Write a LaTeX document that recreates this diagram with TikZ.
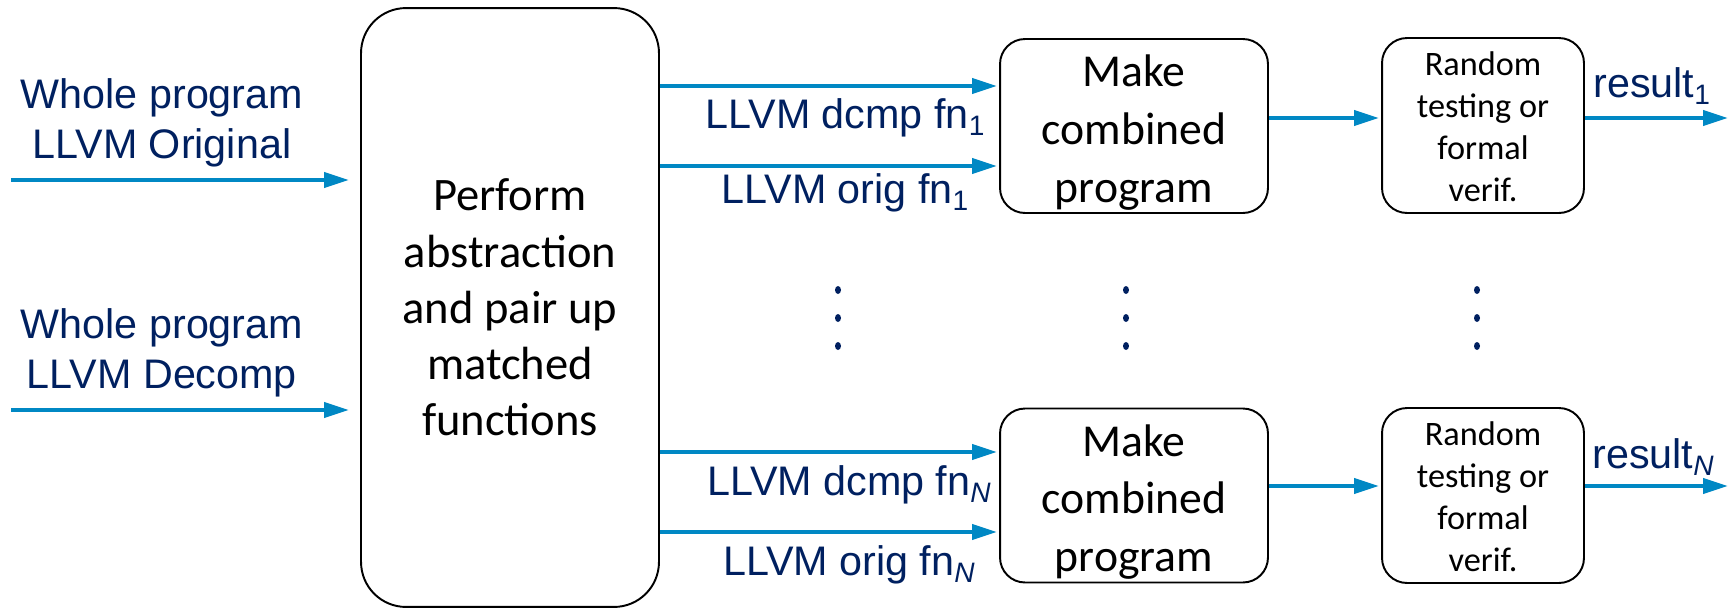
\documentclass[tikz,border=0pt]{standalone}
\usepackage{fontspec}
\setmainfont{Liberation Sans}
\newfontfamily\boxfont{Carlito}
\usetikzlibrary{arrows.meta,positioning}
\definecolor{navy}{RGB}{0,32,96}
\definecolor{flow}{RGB}{0,136,196}
\newcommand{\lsub}[1]{\raisebox{-4.5pt}{\fontsize{16}{16}\selectfont #1}}

\begin{document}
\begin{tikzpicture}[x=0.02cm, y=-0.02cm, >={Triangle[length=0.5cm,width=0.3cm]}]
	\tikzstyle{box}=[draw=black, line width=1.1pt, rounded corners=0.5cm, align=center, inner sep=0pt, text=black]
	\tikzstyle{flowline}=[->, draw=flow, line width=2.3pt, shorten >=0.04cm]
	\tikzstyle{lbl}=[text=navy, inner sep=0pt, align=center, font=\fontsize{23.5}{28.5}\selectfont]
	\useasboundingbox (0,0) rectangle (1728,609);

	% boxes
	\node[box, rounded corners=0.9cm, minimum width=5.96cm, minimum height=11.98cm,
		font=\boxfont\fontsize{26.5}{32}\selectfont] (abs) at (510,307.5)
		{Perform\\abstraction\\and pair up\\matched\\functions};
	\node[box, minimum width=5.36cm, minimum height=3.48cm, font=\boxfont\fontsize{26}{33}\selectfont]
		(mk1) at (1134,126) {\rule{0pt}{25.5pt}Make\\combined\\program};
	\node[box, minimum width=5.36cm, minimum height=3.48cm, font=\boxfont\fontsize{26}{33}\selectfont]
		(mkN) at (1134,495.5) {\rule{0pt}{25.5pt}Make\\combined\\program};
	\node[box, minimum width=4.04cm, minimum height=3.5cm, font=\boxfont\fontsize{19.5}{24}\selectfont]
		(rt1) at (1483,125.5) {\rule{0pt}{15pt}Random\\testing or\\formal\\verif.};
	\node[box, minimum width=4.04cm, minimum height=3.5cm, font=\boxfont\fontsize{19.5}{24}\selectfont]
		(rtN) at (1483,495.5) {\rule{0pt}{15pt}Random\\testing or\\formal\\verif.};

	% levels of the connectors
	\coordinate (srcO) at (11,180);
	\coordinate (srcD) at (11,410);
	\coordinate (yd1) at (0,86);
	\coordinate (yo1) at (0,166);
	\coordinate (ydN) at (0,452);
	\coordinate (yoN) at (0,532);
	\coordinate (yr1) at (0,118);
	\coordinate (yrN) at (0,486);
	\coordinate (out1) at (1728,118);
	\coordinate (outN) at (1728,486);

	% connectors
	\draw[flowline, shorten >=0.22cm] (srcO) -- (srcO -| abs.west);
	\draw[flowline, shorten >=0.22cm] (srcD) -- (srcD -| abs.west);
	\draw[flowline] (abs.east |- yd1) -- (mk1.west |- yd1);
	\draw[flowline] (abs.east |- yo1) -- (mk1.west |- yo1);
	\draw[flowline] (abs.east |- ydN) -- (mkN.west |- ydN);
	\draw[flowline] (abs.east |- yoN) -- (mkN.west |- yoN);
	\draw[flowline] (mk1.east |- yr1) -- (rt1.west |- yr1);
	\draw[flowline] (mkN.east |- yrN) -- (rtN.west |- yrN);
	\draw[flowline, shorten >=0pt] (rt1.east |- out1) -- (out1);
	\draw[flowline, shorten >=0pt] (rtN.east |- outN) -- (outN);

	% labels
	\node[lbl] (lblO) at (162,123) {Whole program\\LLVM Original};
	\node[lbl] (lblD) at (162,353) {Whole program\\LLVM Decomp};
	\node[lbl, anchor=base] (lbld1) at (845,128) {LLVM dcmp fn\lsub{1}};
	\node[lbl, anchor=base] (lblo1) at (845,203) {LLVM orig fn\lsub{1}};
	\node[lbl, anchor=base] (lbldN) at (849,495) {LLVM dcmp fn\lsub{\textit{N}}};
	\node[lbl, anchor=base] (lbloN) at (849,575) {LLVM orig fn\lsub{\textit{N}}};
	\node[lbl, anchor=base west] (res1) at (1593,97) {result\lsub{1}};
	\node[lbl, anchor=base west] (resN) at (1592,468) {result\lsub{\textit{N}}};

	% dots
	\foreach \dx in {838,1126,1477}
		\foreach \dy in {290,318,346}
			\fill[navy] (\dx,\dy) ellipse [x radius=0.06cm, y radius=0.08cm];
\end{tikzpicture}
\end{document}
